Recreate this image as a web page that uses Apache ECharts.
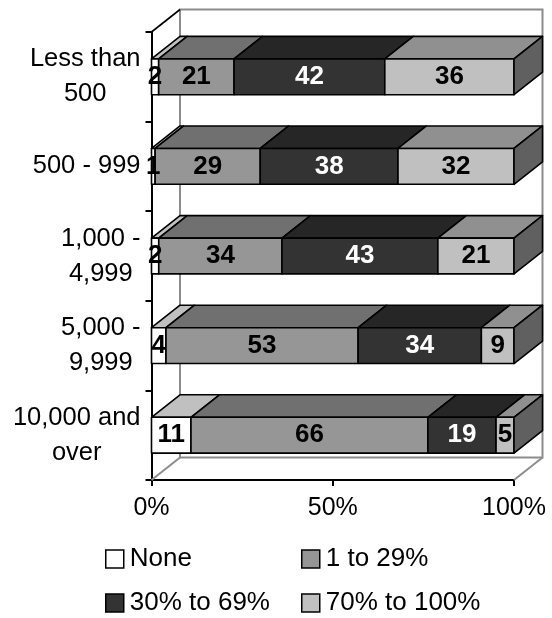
<!DOCTYPE html>
<html>
<head>
<meta charset="utf-8">
<style>html,body{margin:0;padding:0;background:#fff}#chart{width:552px;height:618px}</style>
<script src="https://cdn.jsdelivr.net/npm/echarts@6/dist/echarts.min.js"></script>
</head>
<body>
<div id="chart"></div>
<script>
// Share of respondents per size class, read as rows top to bottom.
const categories = ['Less than\n500', '500 - 999', '1,000 -\n4,999', '5,000 -\n9,999', '10,000 and\nover'];
const none = [2, 1, 2, 4, 11];
const low = [21, 29, 34, 53, 66];
const mid = [42, 38, 43, 34, 19];
const high = [36, 32, 21, 9, 5];
const percentTicks = [0, 50, 100];

const groups = [
  { name: 'None', values: none, front: '#ffffff', top: '#c0c0c0', text: '#000000' },
  { name: '1 to 29%', values: low, front: '#969696', top: '#707070', text: '#000000' },
  { name: '30% to 69%', values: mid, front: '#333333', top: '#262626', text: '#ffffff' },
  { name: '70% to 100%', values: high, front: '#c0c0c0', top: '#909090', text: '#000000' }
];

// Oblique projection of the depth axis, and the bar thickness within a band.
const DX = 28.5, DY = 22.5, BAR_RATIO = 0.4;
const FONT = '"Liberation Sans", Arial, sans-serif';

// 100% stacking: every row is scaled by its own total.
const totals = categories.map((_, i) => groups.reduce((s, g) => s + g.values[i], 0));
function stackedRows(index) {
  return categories.map((_, i) => {
    let before = 0;
    for (let k = 0; k < index; k++) before += groups[k].values[i];
    const v = groups[index].values[i];
    return [i, before / totals[i] * 100, (before + v) / totals[i] * 100, v];
  });
}

function poly(points, fill) {
  return {
    type: 'polygon',
    shape: { points },
    style: { fill, stroke: '#000', lineWidth: 1.6, lineJoin: 'round' }
  };
}

function barRenderer(index) {
  const g = groups[index];
  return function (params, api) {
    const start = api.coord([api.value(1), api.value(0)]);
    const end = api.coord([api.value(2), api.value(0)]);
    const h = api.size([0, 1])[1] * BAR_RATIO;
    const x0 = start[0], x1 = end[0], t = start[1] - h / 2, b = start[1] + h / 2;
    const children = [
      poly([[x0, t], [x0 + DX, t - DY], [x1 + DX, t - DY], [x1, t]], g.top),
      poly([[x0, t], [x1, t], [x1, b], [x0, b]], g.front)
    ];
    if (index === groups.length - 1) {
      children.push(poly([[x1, t], [x1 + DX, t - DY], [x1 + DX, b - DY], [x1, b]], '#606060'));
    }
    children.push({
      type: 'text',
      z2: 100,
      style: {
        x: (x0 + x1) / 2, y: start[1],
        text: String(api.value(3)),
        fill: g.text,
        font: 'bold 26px ' + FONT,
        textAlign: 'center', textVerticalAlign: 'middle'
      }
    });
    return { type: 'group', children };
  };
}

// Back wall and floor edges of the 3D box.
function wallRenderer(params, api) {
  const tl = api.coord([0, 0]), br = api.coord([100, categories.length - 1]);
  const band = api.size([0, 1])[1];
  const top = tl[1] - band / 2, bottom = br[1] + band / 2, l = tl[0], r = br[0];
  const grey = { stroke: '#8c8c8c', lineWidth: 2, fill: null };
  const seg = (x1, y1, x2, y2, style) => ({ type: 'line', shape: { x1, y1, x2, y2 }, style });
  return {
    type: 'group',
    children: [
      { type: 'rect', shape: { x: l + DX, y: top - DY, width: r - l, height: bottom - top }, style: grey },
      seg(l, bottom, l + DX, bottom - DY, grey),
      seg(r, bottom, r + DX, bottom - DY, grey),
      seg(l, top, l + DX, top - DY, { stroke: '#000', lineWidth: 1.6 })
    ]
  };
}

const legendSlots = [[105, 546], [301, 546], [105, 590], [301, 590]];

const chart = echarts.init(document.getElementById('chart'), null, { renderer: 'canvas' });
chart.setOption({
  animation: false,
  backgroundColor: '#ffffff',
  grid: { left: 151.5, top: 32, width: 362.5, height: 448, containLabel: false, outerBoundsMode: 'none' },
  legend: groups.map((g, i) => ({
    data: [g.name],
    left: legendSlots[i][0],
    top: legendSlots[i][1],
    padding: 0,
    itemWidth: 18,
    itemHeight: 18,
    itemGap: 0,
    icon: 'rect',
    selectedMode: false,
    itemStyle: { color: g.front, borderColor: '#000', borderWidth: 1.5 },
    textStyle: { color: '#000', fontSize: 26, fontFamily: FONT, padding: [0, 0, 0, 1] }
  })),
  xAxis: {
    type: 'value',
    min: percentTicks[0],
    max: percentTicks[2],
    interval: percentTicks[1],
    splitLine: { show: false },
    axisLine: { show: true, lineStyle: { color: '#000', width: 2 } },
    axisTick: { show: true, length: 6, lineStyle: { color: '#000', width: 2 } },
    axisLabel: {
      color: '#000', fontSize: 25, fontFamily: FONT, margin: 16,
      showMinLabel: true, showMaxLabel: true, hideOverlap: false,
      formatter: '{value}%'
    }
  },
  yAxis: {
    type: 'category',
    inverse: true,
    data: categories,
    splitLine: { show: false },
    axisLine: { show: true, lineStyle: { color: '#000', width: 2 } },
    axisTick: { show: true, length: 6, lineStyle: { color: '#000', width: 2 } },
    axisLabel: {
      interval: 0,
      color: '#000', fontSize: 25.5, fontFamily: FONT, margin: 11, lineHeight: 35,
      formatter: v => v.split('\n').map(s => '{c|' + s + '}').join('\n'),
      rich: { c: { align: 'center', color: '#000', fontSize: 25.5, fontFamily: FONT, lineHeight: 35 } }
    }
  },
  series: [
    { type: 'custom', silent: true, z: 1, data: [[0]], renderItem: wallRenderer, encode: { x: [], y: [] } }
  ].concat(groups.map((g, i) => ({
    type: 'custom',
    name: g.name,
    z: 2,
    silent: true,
    itemStyle: { color: g.front },
    encode: { x: [1, 2], y: 0 },
    data: stackedRows(i),
    renderItem: barRenderer(i)
  })))
});
</script>
</body>
</html>
